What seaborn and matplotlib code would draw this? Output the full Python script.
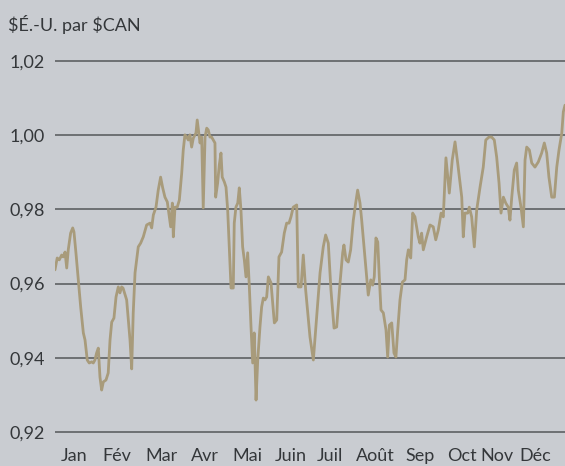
import matplotlib
matplotlib.use("Agg")
import matplotlib.pyplot as plt
import seaborn as sns
import pandas as pd

# Daily US$ per C$ exchange rate over the year (day of year, rate)
days = [
    0, 1.6, 3.1, 4.8, 5.9, 7.2, 8.4, 9.5, 11.2, 12.7,
    13.6, 15.0, 16.7, 18.4, 20.3, 21.5, 23.1, 24.5, 26.3, 27.4,
    28.6, 29.8, 31.0, 32.2, 33.4, 34.6, 36.5, 38.1, 39.4, 40.6,
    42.2, 43.7, 45.3, 46.5, 47.7, 48.7, 51.3, 53.7, 54.9, 56.0,
    57.3, 59.6, 61.3, 63.2, 65.6, 68.0, 69.2, 70.4, 72.3, 73.9,
    75.6, 77.1, 78.7, 80.4, 81.8, 82.8, 84.0, 84.7, 85.9, 87.5,
    89.0, 90.7, 91.8, 93.0, 94.3, 95.4, 96.6, 97.8, 99.0, 100.9,
    101.8, 103.3, 103.8, 105.0, 106.1, 107.4, 108.6, 109.7, 110.9, 112.1,
    113.3, 114.5, 115.0, 116.4, 117.6, 118.8, 119.7, 121.2, 122.4, 123.6,
    124.7, 126.0, 127.6, 128.3, 129.5, 130.8, 131.9, 133.1, 134.3, 135.5,
    136.7, 137.9, 139.1, 140.3, 141.5, 142.6, 143.9, 145.1, 146.7, 147.9,
    149.1, 150.3, 151.5, 152.7, 154.6, 157.0, 158.7, 160.3, 162.2, 164.1,
    165.8, 167.5, 168.9, 170.5, 173.0, 174.1, 176.1, 177.7, 179.4, 182.5,
    184.9, 187.3, 189.7, 192.0, 193.7, 195.6, 197.5, 199.7, 201.6, 204.0,
    205.9, 206.8, 208.3, 209.9, 211.6, 213.5, 215.2, 216.6, 218.3, 219.5,
    221.2, 223.1, 224.2, 226.0, 227.4, 228.5, 229.7, 231.0, 232.1, 233.3,
    235.0, 236.9, 238.1, 239.3, 241.0, 242.6, 244.0, 245.3, 246.9, 248.6,
    250.5, 251.7, 252.9, 254.6, 256.0, 257.6, 260.0, 261.2, 262.4, 263.6,
    266.0, 268.4, 270.7, 272.5, 274.3, 276.3, 277.9, 279.8, 282.2, 284.3,
    286.3, 288.2, 289.9, 291.1, 292.2, 293.4, 295.4, 296.5, 298.2, 300.1,
    301.8, 304.2, 306.5, 308.3, 310.6, 312.5, 314.4, 316.1, 317.8, 319.2,
    320.9, 322.6, 324.4, 325.6, 326.9, 328.7, 330.4, 331.6, 333.5, 335.2,
    336.4, 337.6, 339.5, 341.2, 343.5, 345.9, 348.3, 350.2, 351.9, 353.5,
    355.5, 357.4, 359.1, 360.7, 362.7, 363.8, 365.0,
]
rates = [
    0.9637, 0.9669, 0.9664, 0.9677, 0.9672, 0.9685, 0.9642, 0.9691, 0.9736, 0.9750,
    0.9739, 0.9683, 0.9610, 0.9537, 0.9467, 0.9448, 0.9394, 0.9386, 0.9389, 0.9386,
    0.9394, 0.9413, 0.9426, 0.9348, 0.9313, 0.9335, 0.9340, 0.9359, 0.9448, 0.9496,
    0.9507, 0.9564, 0.9591, 0.9575, 0.9591, 0.9588, 0.9556, 0.9448, 0.9370, 0.9521,
    0.9629, 0.9699, 0.9709, 0.9726, 0.9758, 0.9763, 0.9750, 0.9785, 0.9806, 0.9852,
    0.9887, 0.9858, 0.9833, 0.9820, 0.9780, 0.9753, 0.9817, 0.9726, 0.9806, 0.9806,
    0.9825, 0.9898, 0.9960, 1.0001, 0.9995, 0.9987, 1.0001, 0.9968, 0.9992, 1.0006,
    1.0041, 0.9995, 0.9979, 0.9995, 0.9804, 0.9995, 1.0019, 1.0014, 0.9995, 0.9995,
    0.9987, 0.9979, 0.9833, 0.9871, 0.9920, 0.9952, 0.9887, 0.9874, 0.9860, 0.9798,
    0.9699, 0.9588, 0.9588, 0.9763, 0.9806, 0.9817, 0.9858, 0.9798, 0.9699, 0.9664,
    0.9618, 0.9683, 0.9591, 0.9483, 0.9386, 0.9467, 0.9286, 0.9394, 0.9483, 0.9537,
    0.9561, 0.9556, 0.9564, 0.9618, 0.9602, 0.9494, 0.9502, 0.9672, 0.9685, 0.9736,
    0.9763, 0.9763, 0.9780, 0.9806, 0.9812, 0.9591, 0.9591, 0.9677, 0.9583, 0.9456,
    0.9394, 0.9510, 0.9629, 0.9699, 0.9731, 0.9709, 0.9583, 0.9480, 0.9483, 0.9602,
    0.9683, 0.9704, 0.9664, 0.9658, 0.9691, 0.9771, 0.9817, 0.9852, 0.9817, 0.9771,
    0.9699, 0.9618, 0.9569, 0.9610, 0.9596, 0.9618, 0.9723, 0.9712, 0.9618, 0.9529,
    0.9521, 0.9475, 0.9402, 0.9488, 0.9494, 0.9413, 0.9402, 0.9475, 0.9556, 0.9604,
    0.9610, 0.9664, 0.9691, 0.9669, 0.9790, 0.9780, 0.9726, 0.9709, 0.9736, 0.9691,
    0.9726, 0.9758, 0.9753, 0.9718, 0.9744, 0.9790, 0.9780, 0.9939, 0.9844, 0.9933,
    0.9982, 0.9925, 0.9871, 0.9833, 0.9726, 0.9790, 0.9790, 0.9806, 0.9780, 0.9699,
    0.9798, 0.9860, 0.9914, 0.9987, 0.9995, 0.9995, 0.9987, 0.9941, 0.9871, 0.9790,
    0.9833, 0.9817, 0.9806, 0.9771, 0.9833, 0.9906, 0.9925, 0.9852, 0.9806, 0.9753,
    0.9933, 0.9968, 0.9960, 0.9925, 0.9914, 0.9928, 0.9952, 0.9979, 0.9952, 0.9887,
    0.9833, 0.9833, 0.9914, 0.9960, 1.0006, 1.0063, 1.0081,
]

months = ["Jan", "Fév", "Mar", "Avr", "Mai", "Juin",
          "Juil", "Août", "Sep", "Oct", "Nov", "Déc"]
month_pos = [14, 44, 76, 107, 138, 169, 197, 229, 261, 291, 316, 344]

y_ticks = [0.92, 0.94, 0.96, 0.98, 1.00, 1.02]
y_labels = ["0,92", "0,94", "0,96", "0,98", "1,00", "1,02"]

assert len(days) == len(rates)
df = pd.DataFrame({"jour": days, "taux": rates})

BG = "#c9ccd1"
LINE = "#a89b7b"
GRID = "#54575a"
TEXT = "#34373a"

sns.set_style("white")
plt.rcParams["font.family"] = ["Lato", "DejaVu Sans"]

fig = plt.figure(figsize=(5.65, 4.66), dpi=100, facecolor=BG)
ax = fig.add_axes([0.0973, 0.0571, 0.9027, 0.8279])
ax.set_facecolor(BG)

sns.lineplot(data=df, x="jour", y="taux", ax=ax, color=LINE,
             linewidth=2.0, estimator=None, sort=False, zorder=3)

ax.set_xlim(0, 365)
ax.set_ylim(0.918, 1.022)
ax.set_yticks(y_ticks, y_labels)
ax.set_xticks(month_pos, months)
ax.grid(axis="y", color=GRID, linewidth=1.1)
ax.grid(axis="x", visible=False)
for s in ax.spines.values():
    s.set_visible(False)
ax.tick_params(axis="both", length=0, labelsize=13, colors=TEXT)
ax.tick_params(axis="y", pad=7)
ax.tick_params(axis="x", pad=6)
ax.set_xlabel("")
ax.set_ylabel("")

fig.text(8 / 565, 1 - 24 / 466, r"\$É.-U. par \$CAN", fontsize=13,
         color=TEXT, ha="left", va="center")

fig.savefig("out.png", dpi=100, facecolor=BG)
